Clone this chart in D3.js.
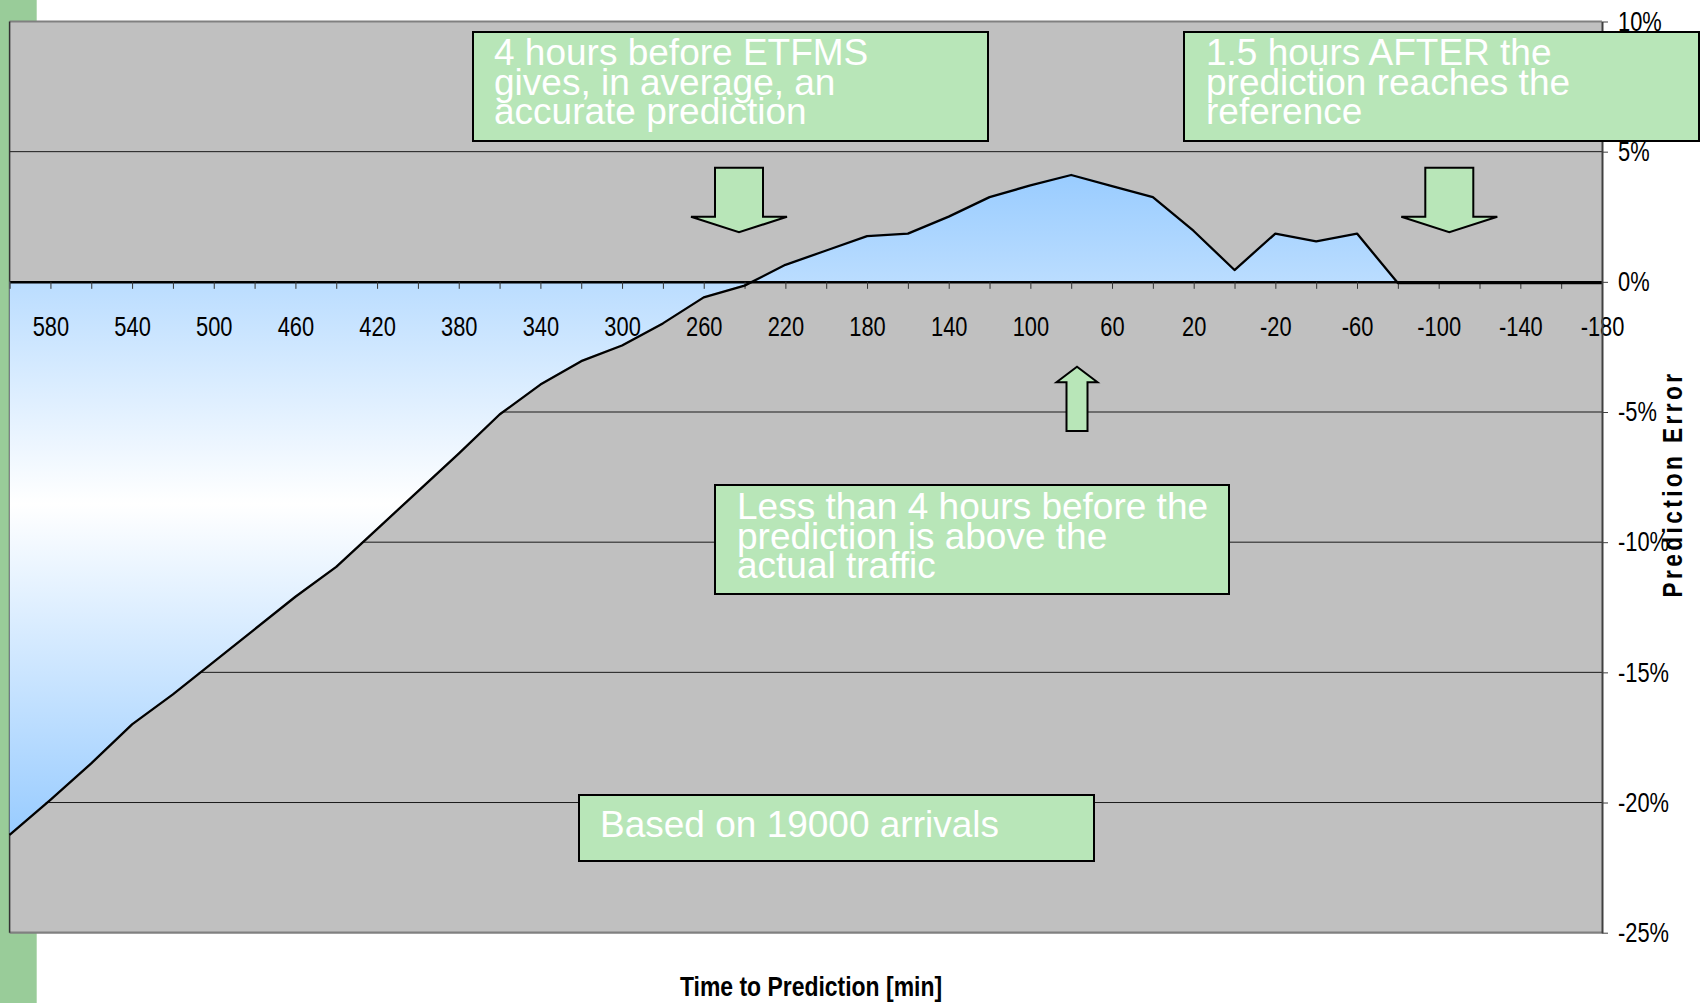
<!DOCTYPE html>
<html>
<head>
<meta charset="utf-8">
<script src="https://cdn.jsdelivr.net/npm/d3@7"></script>
<style>
  body { margin: 0; background: #fff; }
  svg { display: block; }
</style>
</head>
<body>
<div id="chart"></div>
<script>
// Time to prediction categories (minutes), left to right
const categories = [600, 580, 560, 540, 520, 500, 480, 460, 440, 420,
                    400, 380, 360, 340, 320, 300, 280, 260, 240, 220,
                    200, 180, 160, 140, 120, 100, 80, 60, 40, 20,
                    0, -20, -40, -60, -80, -100, -120, -140, -160, -180];

// Prediction error in percent, one per category
const errorPct = [-21.2, -19.85, -18.45, -16.95, -15.8, -14.55, -13.3, -12.05, -10.9, -9.45,
                  -8.0, -6.55, -5.05, -3.9, -3.0, -2.4, -1.55, -0.55, -0.1, 0.7,
                  1.25, 1.8, 1.9, 2.55, 3.3, 3.75, 4.15, 3.72, 3.3, 2.0,
                  0.5, 1.9, 1.6, 1.9, 0, 0, 0, 0, 0, 0];

// Only every other category gets a label
const xTickLabels = [580, 540, 500, 460, 420, 380, 340, 300, 260, 220,
                     180, 140, 100, 60, 20, -20, -60, -100, -140, -180];

const yTickValues = [10, 5, 0, -5, -10, -15, -20, -25];
const gridValues = [5, -5, -10, -15, -20];

const notes = [
    { lines: ['4 hours before ETFMS', 'gives, in average, an', 'accurate prediction'] },
    { lines: ['1.5 hours AFTER the', 'prediction reaches the', 'reference'] },
    { lines: ['Less than 4 hours before the', 'prediction is above the', 'actual traffic'] },
    { lines: ['Based on 19000 arrivals'] }
];

document.addEventListener('DOMContentLoaded', function() {
    drawChart();
});

function drawChart() {
    const W = 1702, H = 1003;
    const plot = { left: 9.6, right: 1602, top: 21.5, bottom: 932.7 };
    // no narrow face installed, so squeeze the regular one
    const font = "'Liberation Sans', Arial, sans-serif";
    const squeeze = 0.81;
    const boxFill = '#b8e6b8';

    const svg = d3.select('#chart')
        .append('svg')
        .attr('width', W)
        .attr('height', H);

    // gradient for the area: blue at both ends, white in the middle
    const grad = svg.append('defs').append('linearGradient')
        .attr('id', 'areaGrad')
        .attr('x1', 0).attr('y1', 0).attr('x2', 0).attr('y2', 1);
    grad.append('stop').attr('offset', '0%').attr('stop-color', '#99ccff');
    grad.append('stop').attr('offset', '50%').attr('stop-color', '#ffffff');
    grad.append('stop').attr('offset', '100%').attr('stop-color', '#99ccff');

    // green slide strip on the left
    svg.append('rect')
        .attr('x', 0).attr('y', 0)
        .attr('width', 36.7).attr('height', H)
        .attr('fill', '#99cc99');

    const x = d3.scalePoint()
        .domain(categories)
        .range([plot.left, plot.right]);

    const y = d3.scaleLinear()
        .domain([-25, 10])
        .range([plot.bottom, plot.top]);

    // plot background
    svg.append('rect')
        .attr('x', plot.left).attr('y', plot.top)
        .attr('width', plot.right - plot.left)
        .attr('height', plot.bottom - plot.top)
        .attr('fill', '#c0c0c0');

    // horizontal gridlines
    svg.append('g')
        .selectAll('line')
        .data(gridValues)
        .enter()
        .append('line')
        .attr('x1', plot.left).attr('x2', plot.right)
        .attr('y1', d => y(d)).attr('y2', d => y(d))
        .attr('stroke', '#1a1a1a')
        .attr('stroke-width', 1);

    // borders
    svg.append('line')
        .attr('x1', plot.left).attr('x2', plot.right)
        .attr('y1', plot.top).attr('y2', plot.top)
        .attr('stroke', '#808080').attr('stroke-width', 2.2);
    svg.append('line')
        .attr('x1', plot.left).attr('x2', plot.right)
        .attr('y1', plot.bottom).attr('y2', plot.bottom)
        .attr('stroke', '#808080').attr('stroke-width', 2.2);
    svg.append('line')
        .attr('x1', plot.left).attr('x2', plot.left)
        .attr('y1', plot.top).attr('y2', plot.bottom)
        .attr('stroke', '#333').attr('stroke-width', 1.5);

    const data = categories.map((c, i) => ({ cat: c, v: errorPct[i] }));

    // area between the curve and zero
    svg.append('path')
        .datum(data)
        .attr('fill', 'url(#areaGrad)')
        .attr('d', d3.area()
            .x(d => x(d.cat))
            .y0(y(0))
            .y1(d => y(d.v)));

    // x axis sitting on the zero line
    const labelSet = new Set(xTickLabels);
    const xAxis = svg.append('g')
        .attr('transform', `translate(0,${y(0)})`)
        .call(d3.axisBottom(x)
            .tickValues(categories)
            .tickSize(7)
            .tickSizeOuter(0)
            .tickFormat(d => labelSet.has(d) ? d : ''));
    xAxis.select('.domain').attr('stroke', '#000').attr('stroke-width', 2.5);
    xAxis.selectAll('.tick line').attr('stroke', '#333').attr('stroke-width', 1);
    xAxis.selectAll('.tick text')
        .attr('y', 54).attr('dy', null)
        .attr('transform', `scale(${squeeze},1)`)
        .attr('fill', '#000')
        .style('font-family', font)
        .style('font-size', '27px');

    // the data line (a touch lower so the flat tail thickens the zero axis)
    svg.append('path')
        .datum(data)
        .attr('fill', 'none')
        .attr('stroke', '#000')
        .attr('stroke-width', 2.3)
        .attr('stroke-linejoin', 'round')
        .attr('transform', 'translate(0,1.2)')
        .attr('d', d3.line()
            .x(d => x(d.cat))
            .y(d => y(d.v)));

    // right y axis
    const yAxis = svg.append('g')
        .attr('transform', `translate(${plot.right},0)`)
        .call(d3.axisRight(y)
            .tickValues(yTickValues)
            .tickSize(6)
            .tickSizeOuter(0)
            .tickFormat(d => d + '%'));
    yAxis.select('.domain').attr('stroke', '#404040').attr('stroke-width', 2);
    yAxis.selectAll('.tick line').attr('stroke', '#404040');
    yAxis.selectAll('.tick text')
        .attr('x', 16 / squeeze)
        .attr('transform', `scale(${squeeze},1)`)
        .attr('fill', '#000')
        .style('font-family', font)
        .style('font-size', '27px');

    // axis titles
    svg.append('text')
        .attr('transform', 'translate(811,996) scale(0.85,1)')
        .attr('text-anchor', 'middle')
        .style('font-family', font)
        .style('font-weight', 'bold')
        .style('font-size', '27px')
        .text('Time to Prediction [min]');

    svg.append('text')
        .attr('transform', `translate(1682,484) rotate(-90) scale(${squeeze},1)`)
        .attr('text-anchor', 'middle')
        .style('font-family', font)
        .style('font-weight', 'bold')
        .style('font-size', '28px')
        .style('letter-spacing', '4.2px')
        .text('Prediction Error');

    // annotation boxes
    const boxLayout = [
        { x: 473, y: 32, w: 515, h: 109, tx: 494, ty: 65 },
        { x: 1184, y: 32, w: 515, h: 109, tx: 1206, ty: 65 },
        { x: 715, y: 485, w: 514, h: 109, tx: 737, ty: 519 },
        { x: 579, y: 795, w: 515, h: 66, tx: 600, ty: 837 }
    ];
    notes.forEach((n, i) => {
        const b = boxLayout[i];
        const g = svg.append('g');
        g.append('rect')
            .attr('x', b.x).attr('y', b.y)
            .attr('width', b.w).attr('height', b.h)
            .attr('fill', boxFill)
            .attr('stroke', '#000')
            .attr('stroke-width', 2);
        g.selectAll('text')
            .data(n.lines)
            .enter()
            .append('text')
            .attr('x', b.tx)
            .attr('y', (d, j) => b.ty + j * 29.5)
            .attr('fill', '#fff')
            .style('font-family', font)
            .style('font-size', '37px')
            .text(d => d);
    });

    // block arrows
    function blockArrow(cx, base, shaftW, headY, headW, tipY) {
        return [[cx - shaftW / 2, base], [cx + shaftW / 2, base], [cx + shaftW / 2, headY],
                [cx + headW / 2, headY], [cx, tipY], [cx - headW / 2, headY],
                [cx - shaftW / 2, headY]];
    }
    const arrows = [
        blockArrow(739, 167.7, 48, 216.7, 96, 232.3),
        blockArrow(1449.3, 167.7, 48, 216.7, 96, 232.3),
        blockArrow(1077, 431, 21, 382.3, 41, 366.7)
    ];
    svg.append('g')
        .selectAll('path')
        .data(arrows)
        .enter()
        .append('path')
        .attr('d', d => d3.line()(d) + 'Z')
        .attr('fill', boxFill)
        .attr('stroke', '#000')
        .attr('stroke-width', 2)
        .attr('stroke-linejoin', 'miter');
}
</script>
</body>
</html>
